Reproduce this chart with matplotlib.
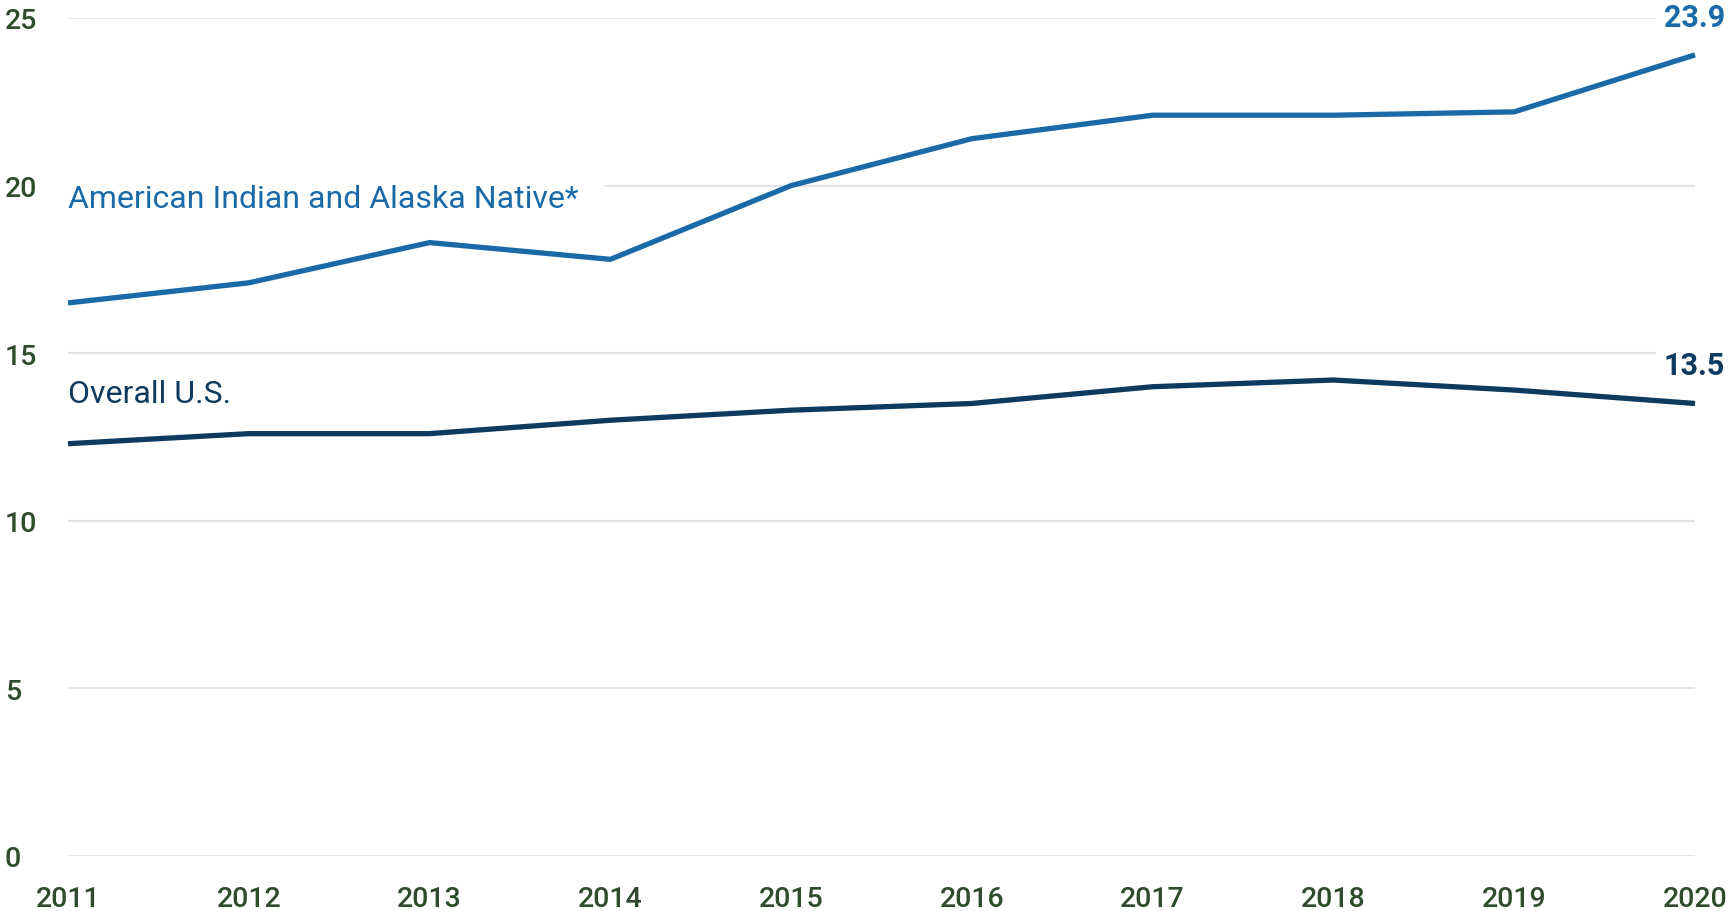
import matplotlib
matplotlib.use("Agg")
import matplotlib.pyplot as plt

years = [2011, 2012, 2013, 2014, 2015, 2016, 2017, 2018, 2019, 2020]
aian = [16.5, 17.1, 18.3, 17.8, 20.0, 21.4, 22.1, 22.1, 22.2, 23.9]
overall = [12.3, 12.6, 12.6, 13.0, 13.3, 13.5, 14.0, 14.2, 13.9, 13.5]
yticks = [0, 5, 10, 15, 20, 25]
series_labels = ["American Indian and Alaska Native*", "Overall U.S."]

plt.rcParams['font.family'] = ['Roboto', 'DejaVu Sans']

C_AIAN = "#1a6aa8"
C_ALL = "#0d3a5e"
C_TICK = "#2f4a2c"

fig = plt.figure(figsize=(17.3, 9.12), dpi=100)
ax = fig.add_axes([68/1730, 1-857/912, (1695-68)/1730, (857-19)/912])

ax.plot(years, aian, color=C_AIAN, lw=3.8, solid_capstyle='butt', clip_on=False, zorder=3)
ax.plot(years, overall, color=C_ALL, lw=3.8, solid_capstyle='butt', clip_on=False, zorder=3)

ax.set_xlim(years[0], years[-1])
ax.set_ylim(0, 25)
ax.set_yticks(yticks)
ax.set_xticks(years)
ax.set_xticklabels([str(y) for y in years])
ax.grid(axis='y', color='#e3e3e3', lw=1.5, zorder=0)
ax.grid(axis='x', visible=False)
for s in ax.spines.values():
    s.set_visible(False)
ax.tick_params(axis='y', length=0, pad=45.5, labelsize=20.5, labelcolor=C_TICK)
ax.tick_params(axis='x', length=0, pad=21, labelsize=20.5, labelcolor=C_TICK)
for lab in ax.get_yticklabels() + ax.get_xticklabels():
    lab.set_fontweight('medium')
for lab in ax.get_yticklabels():
    lab.set_horizontalalignment('left')

ax.text(years[0], 19.62, series_labels[0], color=C_AIAN, fontsize=23,
        ha='left', va='center', zorder=2,
        bbox=dict(facecolor='white', edgecolor='none', boxstyle='square,pad=0.8'))
ax.text(years[0], 13.8, series_labels[1], color=C_ALL, fontsize=23,
        ha='left', va='center', zorder=2)

for vals, col in [(aian, C_AIAN), (overall, C_ALL)]:
    ax.annotate(f"{vals[-1]:.1f}", xy=(years[-1], vals[-1]), xytext=(30, 38),
                textcoords='offset pixels', ha='right', va='center',
                fontsize=22, fontweight='bold', color=col, zorder=4,
                annotation_clip=False,
                bbox=dict(facecolor='white', edgecolor='none', boxstyle='square,pad=0.25'))

fig.savefig("out.png", dpi=100, facecolor='white')
